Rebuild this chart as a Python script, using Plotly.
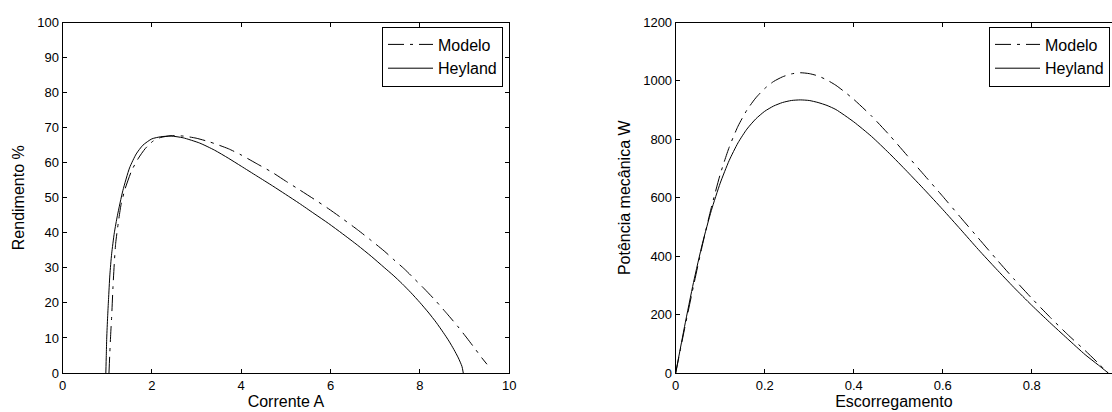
import plotly.graph_objects as go

# ---- Left chart: Rendimento % vs Corrente A ----
corrente_heyland = [0.97, 0.98, 0.99, 1.01, 1.03, 1.06, 1.1, 1.16, 1.23, 1.35, 1.5, 1.65, 1.8, 2.0, 2.2,
                    2.43, 2.7, 3.07, 3.4, 3.71, 4.0, 4.35, 4.7, 4.99, 5.3, 5.63, 5.95, 6.27, 6.6, 6.91,
                    7.2, 7.4, 7.6, 7.8, 8.0, 8.2, 8.36, 8.52, 8.65, 8.76, 8.86, 8.94, 8.97]
rend_heyland = [0, 5, 10, 16, 21, 28, 34, 40, 45, 52, 58.5, 62.5, 65, 66.8, 67.4,
                67.6, 67.1, 65.6, 63.6, 61.3, 59.0, 56.2, 53.4, 51.0, 48.4, 45.5, 42.7, 39.7, 36.5, 33.3,
                30.1, 27.9, 25.5, 22.9, 20.1, 17.1, 14.5, 11.6, 9.1, 6.7, 4.3, 1.9, 0]

corrente_modelo = [1.04, 1.06, 1.08, 1.1, 1.13, 1.16, 1.19, 1.25, 1.31, 1.4, 1.55, 1.7, 1.85, 2.03, 2.2,
                   2.43, 2.7, 2.99, 3.3, 3.71, 4.0, 4.35, 4.7, 4.99, 5.3, 5.63, 5.95, 6.27, 6.6, 6.91,
                   7.2, 7.4, 7.65, 7.88, 8.1, 8.36, 8.6, 8.84, 9.05, 9.24, 9.38, 9.5]
rend_modelo = [0, 6, 11.4, 16, 24.6, 31.5, 37, 43, 48, 52.5, 57.8, 61.3, 64, 66.2, 67.2,
               67.7, 67.6, 67.0, 65.9, 64.0, 62.2, 59.7, 57.2, 54.8, 52.3, 49.6, 46.9, 44.0, 40.9, 37.8,
               34.8, 32.5, 29.7, 26.8, 24.0, 20.5, 17.0, 13.4, 10.0, 6.8, 4.4, 2.5]

# ---- Right chart: Potência mecânica W vs Escorregamento ----
slip_heyland = [0, 0.02, 0.04, 0.06, 0.08, 0.10, 0.12, 0.14, 0.16, 0.18, 0.20, 0.22, 0.24, 0.26, 0.28,
                0.30, 0.32, 0.34, 0.36, 0.40, 0.44, 0.48, 0.52, 0.56, 0.60, 0.64, 0.68, 0.72, 0.76,
                0.80, 0.84, 0.88, 0.92, 0.95, 0.972]
pot_heyland = [0, 160, 310, 443, 556, 650, 727, 788, 835, 870, 896, 914, 926, 933, 935,
               933, 926, 916, 902, 860, 810, 752, 690, 626, 560, 492, 423, 357, 293,
               232, 174, 118, 63, 27, 0]

slip_modelo = [0, 0.02, 0.04, 0.06, 0.08, 0.10, 0.12, 0.14, 0.16, 0.18, 0.20, 0.22, 0.24, 0.26, 0.28,
               0.30, 0.32, 0.34, 0.36, 0.38, 0.40, 0.44, 0.48, 0.52, 0.56, 0.60, 0.64, 0.68, 0.72, 0.76,
               0.80, 0.84, 0.88, 0.92, 0.95, 0.972]
pot_modelo = [0, 152, 298, 438, 566, 680, 772, 845, 900, 942, 974, 998, 1014, 1024, 1028,
              1025, 1017, 1003, 985, 962, 937, 880, 815, 745, 675, 605, 533, 462, 391, 322,
              256, 193, 133, 77, 33, 0]

left_xticks = [0, 2, 4, 6, 8, 10]
left_yticks = [0, 10, 20, 30, 40, 50, 60, 70, 80, 90, 100]
right_xticks = [0, 0.2, 0.4, 0.6, 0.8, 1.0]
right_yticks = [0, 200, 400, 600, 800, 1000, 1200]

FONT = "Liberation Sans, Arial, sans-serif"
DASH = "16px,6px,3px,6px"

fig = go.Figure()
fig.add_trace(go.Scatter(x=corrente_modelo, y=rend_modelo, name="Modelo", mode="lines",
                         line=dict(color="black", width=1, dash=DASH, shape="spline", smoothing=0.6),
                         xaxis="x", yaxis="y", legend="legend"))
fig.add_trace(go.Scatter(x=corrente_heyland, y=rend_heyland, name="Heyland", mode="lines",
                         line=dict(color="black", width=1, shape="spline", smoothing=0.6),
                         xaxis="x", yaxis="y", legend="legend"))
fig.add_trace(go.Scatter(x=slip_modelo, y=pot_modelo, name="Modelo", mode="lines",
                         line=dict(color="black", width=1, dash=DASH, shape="spline", smoothing=0.6),
                         xaxis="x2", yaxis="y2", legend="legend2"))
fig.add_trace(go.Scatter(x=slip_heyland, y=pot_heyland, name="Heyland", mode="lines",
                         line=dict(color="black", width=1, shape="spline", smoothing=0.6),
                         xaxis="x2", yaxis="y2", legend="legend2"))

W, H = 1112, 412
ydom = [1 - 373 / H, 1 - 22.5 / H]

axis_common = dict(showgrid=False, zeroline=False, showline=True, linecolor="black", linewidth=1,
                   ticks="inside", ticklen=4, tickcolor="black", tickwidth=1,
                   tickfont=dict(family=FONT, size=13, color="black"), automargin=False)

legend_common = dict(bgcolor="white", bordercolor="black", borderwidth=1,
                     font=dict(family=FONT, size=16, color="black"),
                     xanchor="right", yanchor="top", tracegroupgap=0, itemwidth=45)

fig.update_layout(
    width=W, height=H,
    margin=dict(l=0, r=0, t=0, b=0),
    paper_bgcolor="white", plot_bgcolor="white",
    font=dict(family=FONT, color="black"),
    xaxis=dict(domain=[62.5 / W, 509.3 / W], range=[0, 10], tickvals=left_xticks, mirror="ticks",
               anchor="y", title=dict(text="Corrente A", font=dict(family=FONT, size=16), standoff=4),
               **axis_common),
    yaxis=dict(domain=ydom, range=[0, 100], tickvals=left_yticks, mirror="ticks", anchor="x",
               title=dict(text="Rendimento %", font=dict(family=FONT, size=16), standoff=8),
               **axis_common),
    xaxis2=dict(domain=[675.7 / W, 1.0], range=[0, 0.9805], tickvals=right_xticks, mirror="ticks",
                anchor="y2", title=dict(text="Escorregamento", font=dict(family=FONT, size=16), standoff=4),
                **axis_common),
    yaxis2=dict(domain=ydom, range=[0, 1200], tickvals=right_yticks, mirror=False, anchor="x2",
                title=dict(text="Potência mecânica W", font=dict(family=FONT, size=16), standoff=8),
                **axis_common),
    legend=dict(x=503 / W, y=1 - 26.5 / H, **legend_common),
    legend2=dict(x=1110 / W, y=1 - 26.5 / H, **legend_common),
)

fig.write_html("out.html", config={"displayModeBar": False},
               post_script="document.body.style.margin='0';document.body.style.overflow='hidden';")
